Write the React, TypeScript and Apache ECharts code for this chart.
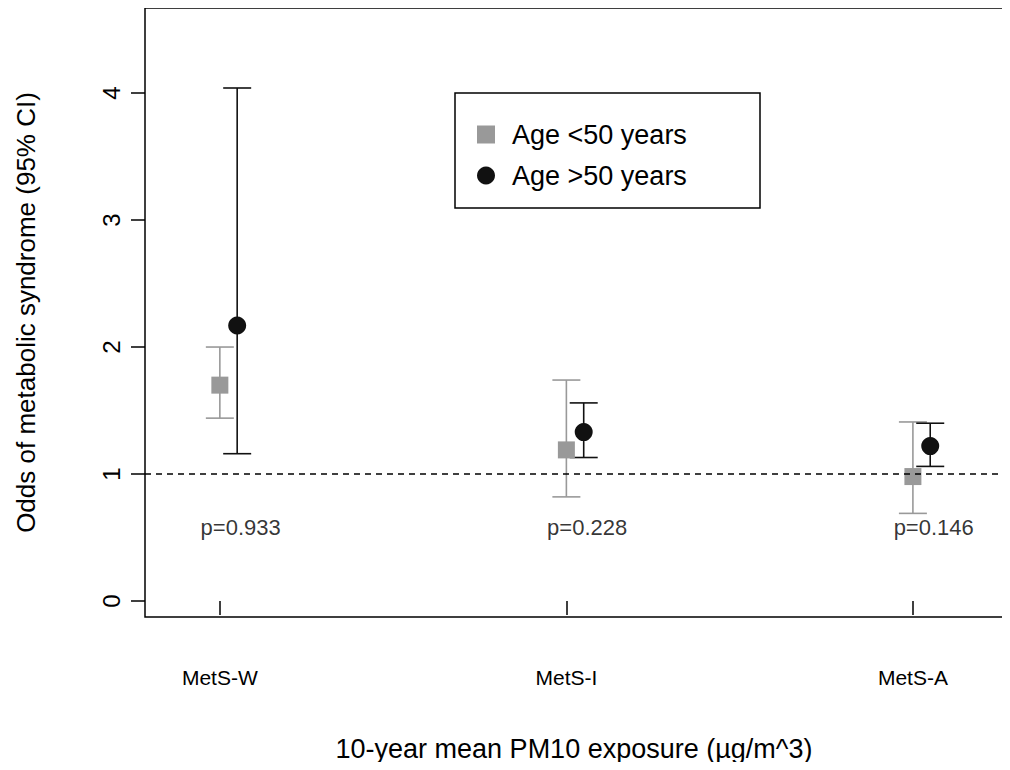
import { useEffect, useRef } from "react";
import * as echarts from "echarts";

const categories = ["MetS-W", "MetS-I", "MetS-A"];
const youngOdds = [1.7, 1.19, 0.98];
const youngLow = [1.44, 0.82, 0.69];
const youngHigh = [2.0, 1.74, 1.41];
const oldOdds = [2.17, 1.33, 1.22];
const oldLow = [1.16, 1.13, 1.06];
const oldHigh = [4.04, 1.56, 1.4];
const pValues = ["p=0.933", "p=0.228", "p=0.146"];
const yTicks = [0, 1, 2, 3, 4];

const GREY = "#999999";
const BLACK = "#111111";
const OFFSET = 0.05;

const errorBars = (low: number[], high: number[], dx: number, color: string) => ({
  type: "custom",
  silent: true,
  data: low.map((l, i) => [i + 1 + dx, l, high[i]]),
  renderItem: (_p: any, api: any) => {
    const lo = api.coord([api.value(0), api.value(1)]);
    const hi = api.coord([api.value(0), api.value(2)]);
    const w = 14;
    const style = { stroke: color, lineWidth: 1.6 };
    return {
      type: "group",
      children: [
        { type: "line", shape: { x1: lo[0], y1: lo[1], x2: hi[0], y2: hi[1] }, style },
        { type: "line", shape: { x1: lo[0] - w, y1: lo[1], x2: lo[0] + w, y2: lo[1] }, style },
        { type: "line", shape: { x1: hi[0] - w, y1: hi[1], x2: hi[0] + w, y2: hi[1] }, style },
      ],
    };
  },
  z: 2,
});

const App = () => {
  const ref = useRef<HTMLDivElement>(null);

  useEffect(() => {
    if (!ref.current) return;
    const chart = echarts.init(ref.current, null, { renderer: "svg" });
    chart.setOption({
      animation: false,
      backgroundColor: "#fff",
      textStyle: { fontFamily: "Liberation Sans, Arial, sans-serif" },
      grid: {
        left: 145,
        top: 8,
        width: 858,
        height: 609,
        show: true,
        borderColor: "#000",
        borderWidth: 1.5,
      },
      xAxis: {
        type: "value",
        min: 0.784,
        max: 3.26,
        name: "10-year mean PM10 exposure (µg/m^3)",
        nameLocation: "middle",
        nameGap: 118,
        nameTextStyle: { fontSize: 27, color: "#000" },
        axisLine: { show: false },
        splitLine: { show: false },
        axisTick: {
          show: true,
          length: 14,
          customValues: [1, 2, 3],
          lineStyle: { color: "#000", width: 1.5 },
        },
        axisLabel: {
          customValues: [1, 2, 3],
          formatter: (v: number) => categories[Math.round(v) - 1] ?? "",
          fontSize: 21,
          color: "#000",
          margin: 50,
        },
      },
      yAxis: {
        type: "value",
        min: -0.126,
        max: 4.67,
        name: "Odds of metabolic syndrome (95% CI)",
        nameLocation: "middle",
        nameGap: 106,
        nameRotate: 90,
        nameTextStyle: { fontSize: 26, color: "#000" },
        axisLine: { show: false },
        splitLine: { show: false },
        axisTick: {
          show: true,
          length: 14,
          customValues: yTicks,
          lineStyle: { color: "#000", width: 1.5 },
        },
        axisLabel: {
          customValues: yTicks,
          rotate: 90,
          fontSize: 24,
          color: "#000",
          margin: 22,
        },
      },
      legend: {
        orient: "vertical",
        left: 472,
        top: 116,
        itemGap: 14,
        itemWidth: 18,
        itemHeight: 18,
        textStyle: { fontSize: 27, color: "#000", padding: [0, 0, 0, 12] },
        data: [
          { name: "Age <50 years", icon: "rect" },
          { name: "Age >50 years", icon: "circle" },
        ],
      },
      graphic: [
        {
          type: "rect",
          shape: { x: 455, y: 93, width: 305, height: 115 },
          style: { fill: "none", stroke: "#000", lineWidth: 1.5 },
          z: 100,
        },
      ],
      series: [
        errorBars(youngLow, youngHigh, 0, GREY),
        errorBars(oldLow, oldHigh, OFFSET, BLACK),
        {
          name: "Age <50 years",
          type: "scatter",
          symbol: "rect",
          symbolSize: 17,
          itemStyle: { color: GREY, opacity: 1 },
          data: youngOdds.map((v, i) => [i + 1, v]),
          z: 3,
          markLine: {
            silent: true,
            symbol: "none",
            label: { show: false },
            lineStyle: { color: "#000", type: [6, 5], width: 1.5 },
            data: [{ yAxis: 1 }],
          },
        },
        {
          name: "Age >50 years",
          type: "scatter",
          symbol: "circle",
          symbolSize: 18,
          itemStyle: { color: BLACK, opacity: 1 },
          data: oldOdds.map((v, i) => [i + 1 + OFFSET, v]),
          z: 3,
        },
        {
          type: "scatter",
          symbolSize: 0,
          silent: true,
          data: pValues.map((p, i) => ({ value: [i + 1.06, 0.575], label: { formatter: p } })),
          label: { show: true, position: "inside", fontSize: 22, color: "#000" },
        },
      ],
    });
    return () => chart.dispose();
  }, []);

  return <div ref={ref} style={{ width: 1010, height: 770, margin: -8 }} />;
};

export default App;
